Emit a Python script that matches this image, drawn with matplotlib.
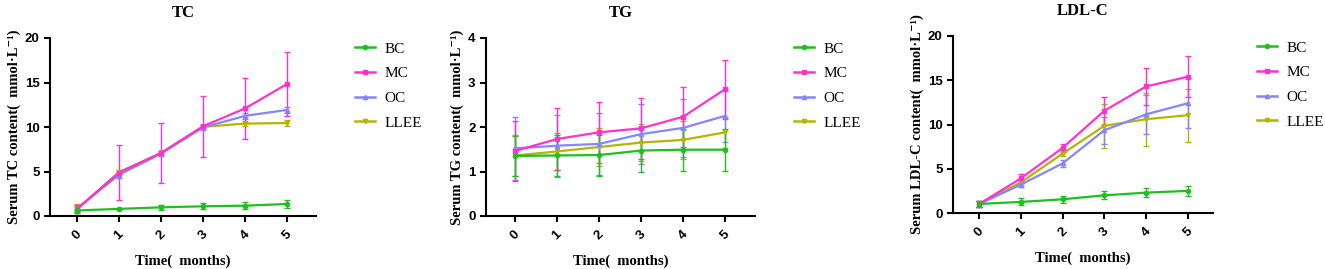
import numpy as np
import matplotlib.pyplot as plt
from matplotlib.lines import Line2D

# months
months = [0, 1, 2, 3, 4, 5]
groups = ["BC", "MC", "OC", "LLEE"]
colors = {"BC": "#1fbf1f", "MC": "#ff33cc", "OC": "#8585ff", "LLEE": "#b5b500"}
markers = {"BC": "o", "MC": "s", "OC": "^", "LLEE": "v"}

# TC
tc_mean = {
    "BC": [0.62, 0.80, 0.97, 1.09, 1.16, 1.35],
    "MC": [0.78, 4.88, 7.08, 10.08, 12.08, 14.83],
    "OC": [0.82, 4.62, 7.00, 9.95, 11.25, 11.92],
    "LLEE": [0.75, 4.92, 7.05, 10.02, 10.38, 10.45],
}
tc_err = {
    "BC": [0.2, 0.12, 0.3, 0.35, 0.4, 0.45],
    "MC": [0.4, 3.05, 3.4, 3.4, 3.4, 3.6],
    "OC": [0.3, 0.3, 0.3, 0.3, 0.3, 0.3],
    "LLEE": [0.6, 0.2, 0.2, 0.25, 0.3, 0.3],
}

# TG
tg_mean = {
    "BC": [1.35, 1.36, 1.37, 1.47, 1.49, 1.49],
    "MC": [1.46, 1.73, 1.88, 1.97, 2.23, 2.85],
    "OC": [1.52, 1.58, 1.62, 1.84, 1.98, 2.25],
    "LLEE": [1.36, 1.45, 1.55, 1.65, 1.71, 1.88],
}
tg_err = {
    "BC": [0.45, 0.46, 0.46, 0.47, 0.47, 0.47],
    "MC": [0.68, 0.69, 0.69, 0.69, 0.68, 0.66],
    "OC": [0.7, 0.7, 0.7, 0.67, 0.65, 0.58],
    "LLEE": [0.45, 0.42, 0.42, 0.42, 0.42, 0.35],
}

# LDL-C
ldl_mean = {
    "BC": [1.02, 1.25, 1.55, 2.0, 2.3, 2.5],
    "MC": [1.0, 3.9, 7.35, 11.55, 14.3, 15.4],
    "OC": [1.0, 3.2, 5.6, 9.35, 11.15, 12.4],
    "LLEE": [1.0, 3.45, 6.7, 9.85, 10.6, 11.05],
}
ldl_err = {
    "BC": [0.35, 0.4, 0.4, 0.45, 0.5, 0.55],
    "MC": [0.3, 0.5, 0.5, 1.6, 2.1, 2.3],
    "OC": [0.3, 0.3, 0.35, 1.5, 2.2, 2.8],
    "LLEE": [0.3, 0.3, 0.3, 2.5, 3.0, 3.0],
}

serif = ["Liberation Serif", "DejaVu Serif"]
sans = ["Liberation Sans", "DejaVu Sans"]

fig = plt.figure(figsize=(13.25, 2.69), dpi=100)
W, H = 1325, 269

panels = [
    # title, mean, err, ylim, yticks, axes px (left, right, top, bottom), xlim, legend px (x, y)
    ("TC", tc_mean, tc_err, 20, [0, 5, 10, 15, 20], (50, 316, 38, 216), (-0.64, 5.69), (355, 42)),
    ("TG", tg_mean, tg_err, 4, [0, 1, 2, 3, 4], (486, 755, 38, 216), (-0.69, 5.71), (794, 42)),
    ("LDL-C", ldl_mean, ldl_err, 20, [0, 5, 10, 15, 20], (953, 1213, 36, 213), (-0.62, 5.6), (1257, 41)),
]

for title, mean, err, ymax, yticks, (l, r, t, b), xlim, (lx, ly) in panels:
    ax = fig.add_axes([l / W, 1 - b / H, (r - l) / W, (b - t) / H])
    for g in reversed(groups):
        ax.errorbar(months, mean[g], yerr=err[g], color=colors[g], marker=markers[g],
                    markersize=3, linewidth=1.6, elinewidth=1.0, capsize=2, capthick=1.0,
                    clip_on=False)
    ax.set_xlim(*xlim)
    ax.set_ylim(0, ymax)
    ax.set_xticks(months)
    ax.set_yticks(yticks)
    for s in ["top", "right"]:
        ax.spines[s].set_visible(False)
    for s in ["left", "bottom"]:
        ax.spines[s].set_linewidth(1.5)
    ax.tick_params(width=1.5, length=4, direction="out")
    ax.tick_params(axis="x", pad=5)
    for lab in ax.get_xticklabels():
        lab.set_rotation(45)
        lab.set_fontfamily(sans)
        lab.set_fontweight("bold")
        lab.set_fontsize(9.5)
        lab.set_ha("center")
        lab.set_va("top")
    for lab in ax.get_yticklabels():
        lab.set_fontfamily(sans)
        lab.set_fontweight("bold")
        lab.set_fontsize(9.5)
    ax.set_title(title, fontfamily=serif, fontweight="bold", fontsize=12, pad=15)
    ax.set_xlabel("Time(  months)", fontfamily=serif, fontweight="bold", fontsize=10.5, labelpad=9)
    ax.set_ylabel("Serum " + title + " content(  mmol\u00b7L\u207b\u00b9)", fontfamily=serif,
                  fontweight="bold", fontsize=10.5, labelpad=3)
    handles = [Line2D([], [], color=colors[g], marker=markers[g], markersize=3, linewidth=1.8)
               for g in groups]
    ax.legend(handles, groups,
              loc="upper left", bbox_to_anchor=(lx / W, 1 - ly / H), bbox_transform=fig.transFigure,
              frameon=False, prop={"family": serif, "size": 11}, handlelength=1.3,
              handletextpad=0.65, labelspacing=0.72, borderaxespad=0, borderpad=0)

fig.savefig("out.png", dpi=100)
